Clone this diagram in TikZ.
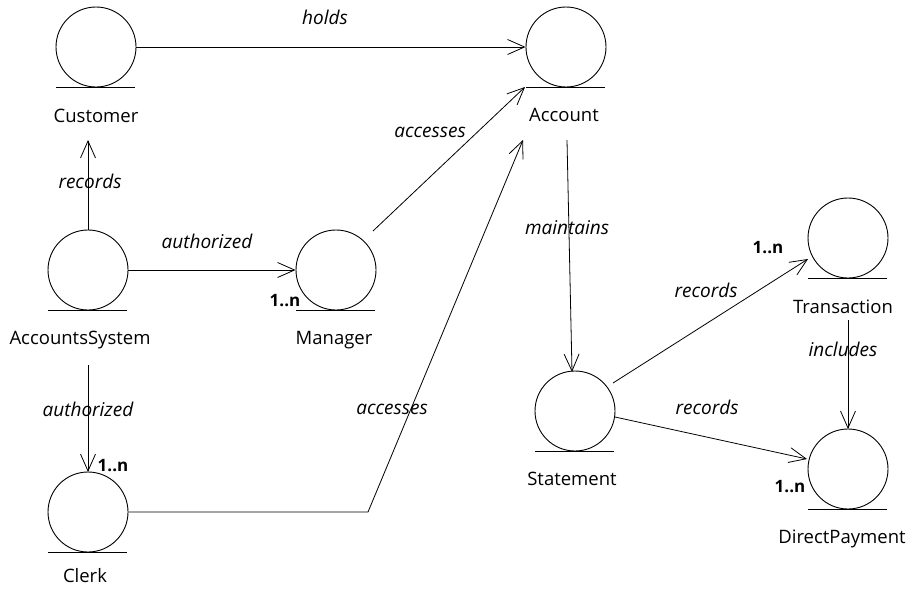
\documentclass[tikz,border=0pt]{standalone}
\usepackage{fontspec}
\setmainfont{Open Sans}
\usetikzlibrary{arrows.meta}
% entity symbol: a circle resting on a ground line
\newcommand\entitysym[3]{%
  \node[entity] (#1) at (#2,#3) {};
  \draw[ground] ([xshift=-40pt]#1.south) -- ([xshift=39pt]#1.south);
}
\begin{document}
\begin{tikzpicture}[x=1pt,y=-1pt,
  entity/.style={circle,draw,line width=0.9pt,minimum size=80pt,inner sep=0pt},
  ground/.style={line width=0.9pt},
  ename/.style={anchor=base,inner sep=0pt,font=\fontsize{18.5}{20}\selectfont},
  rel/.style={anchor=base,inner sep=0pt,font=\itshape\fontsize{19}{20}\selectfont},
  mult/.style={anchor=base,inner sep=0pt,font=\bfseries\fontsize{17}{20}\selectfont},
  link/.style={line width=0.8pt,-{Straight Barb[length=17pt,width=15pt,line width=0.8pt]}}
]
\useasboundingbox (0,0) rectangle (915,589);

% entities
\entitysym{cust}{96}{47}
\entitysym{acc}{566}{47}
\entitysym{asys}{88}{270}
\entitysym{mgr}{336}{270}
\entitysym{clerk}{88}{512}
\entitysym{stmt}{575}{411}
\entitysym{trans}{848}{238}
\entitysym{dp}{848}{469}

% entity names
\node[ename] (custL)  at (96,122)  {Customer};
\node[ename] (accL)   at (564,121) {Account};
\node[ename] (asysL)  at (80,344)  {AccountsSystem};
\node[ename] (mgrL)   at (334,344) {Manager};
\node[ename] (clerkL) at (85,582)  {Clerk};
\node[ename] (stmtL)  at (572,485) {Statement};
\node[ename] (transL) at (843,313) {Transaction};
\node[ename] (dpL)    at (842,543) {DirectPayment};

% multiplicities
\node[mult] (mMgr)   at (285,306) {1..n};
\node[mult] (mClerk) at (113,471) {1..n};
\node[mult] (mTrans) at (768,253) {1..n};
\node[mult] (mDp)    at (790,492) {1..n};

% free ends of connectors
\coordinate (custIn)   at (88,140);
\coordinate (accIn1)   at (525,87);
\coordinate (accIn2)   at (523,140);
\coordinate (accOut)   at (567,140);
\coordinate (stmtIn)   at (572,372);
\coordinate (mgrOut)   at (373,231);
\coordinate (clerkBend) at (368,512);
\coordinate (asysOut)  at (88,365);
\coordinate (clerkIn)  at (88,472);
\coordinate (stmtOut1) at (613,383);
\coordinate (stmtOut2) at (615,417);
\coordinate (transIn)  at (808,259);
\coordinate (dpIn1)    at (807,459);
\coordinate (transOut) at (848,320);
\coordinate (dpIn2)    at (848,429);

% connectors
\draw[link] (cust.east) -- (acc.west);
\draw[link] (asys.north) -- (custIn);
\draw[link] (asys.east) -- (mgr.west);
\draw[link] (mgrOut) -- (accIn1);
\draw[link] (clerk.east) -- (clerkBend) -- (accIn2);
\draw[link] (accOut) -- (stmtIn);
\draw[link] (asysOut) -- (clerkIn);
\draw[link] (stmtOut1) -- (transIn);
\draw[link] (stmtOut2) -- (dpIn1);
\draw[link] (transOut) -- (dpIn2);

% relation names
\node[rel] (rHolds)  at (325,24)  {holds};
\node[rel] (rRec1)   at (90,188)  {records};
\node[rel] (rAuth1)  at (207,248) {authorized};
\node[rel] (rAcc1)   at (430,137) {accesses};
\node[rel] (rAcc2)   at (392,414) {accesses};
\node[rel] (rAuth2)  at (88,416)  {authorized};
\node[rel] (rMaint)  at (567,234) {maintains};
\node[rel] (rRec2)   at (706,297) {records};
\node[rel] (rRec3)   at (707,414) {records};
\node[rel] (rIncl)   at (843,356) {includes};
\end{tikzpicture}
\end{document}
